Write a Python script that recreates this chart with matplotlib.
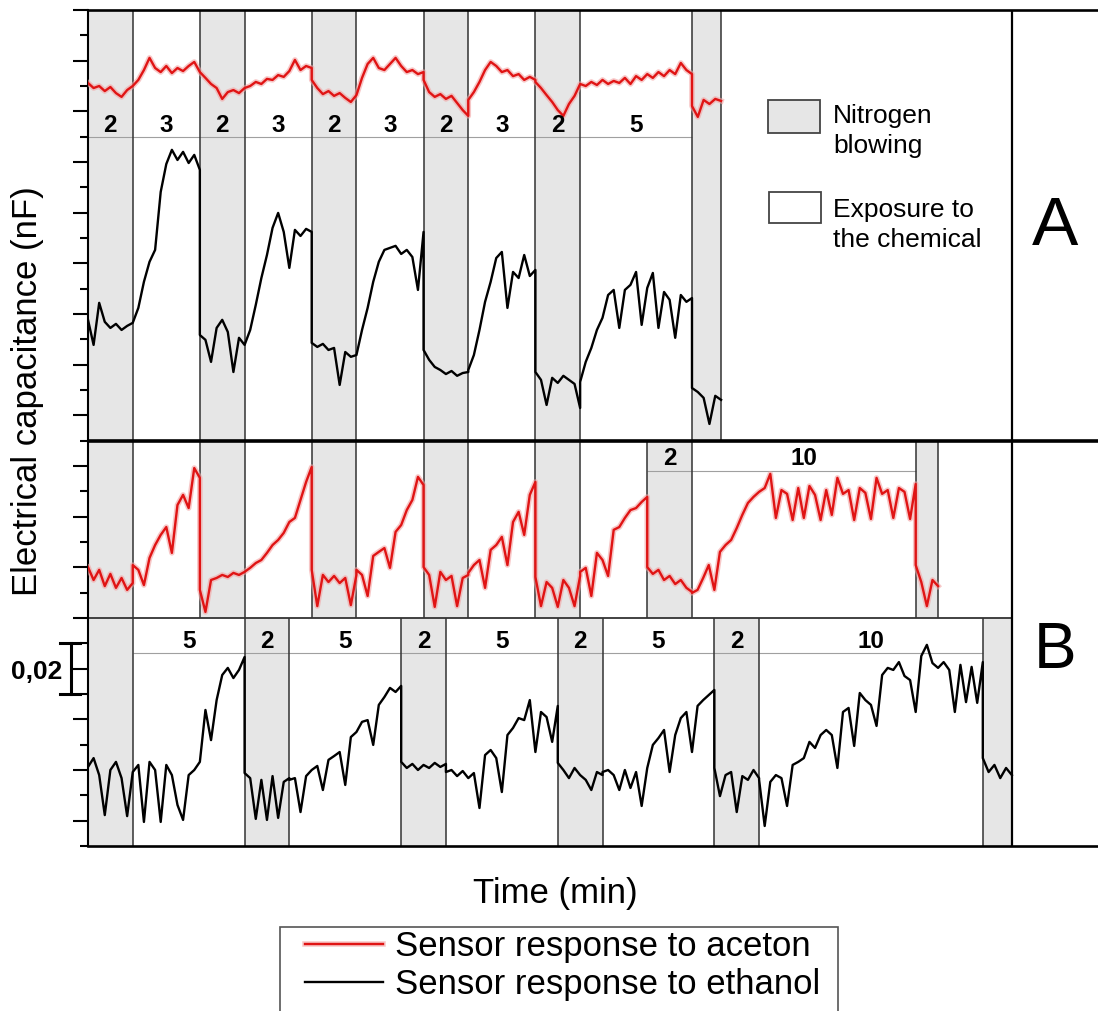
import numpy as np
import matplotlib
matplotlib.use('Agg')
import matplotlib.pyplot as plt
import matplotlib.patheffects as pe
from matplotlib.patches import Rectangle

plt.rcParams['font.family'] = ['Liberation Sans', 'DejaVu Sans']

RED = '#e01414'
GRAY = '#e6e6e6'
EDGE = '#333333'

# phase durations (min): even index = nitrogen blowing, odd index = exposure
a_phases = [2, 3, 2, 3, 2, 3, 2, 3, 2, 5, 1.3]
a_labels = ['2', '3', '2', '3', '2', '3', '2', '3', '2', '5', '']
b_red_phases = [2, 3, 2, 3, 2, 3, 2, 3, 2, 3, 2, 10, 1]
b_red_labels = ['', '', '', '', '', '', '', '', '', '', '2', '10', '']
b_black_phases = [2, 5, 2, 5, 2, 5, 2, 5, 2, 10, 1.3]
b_black_labels = ['', '5', '2', '5', '2', '5', '2', '5', '2', '10', '']

# capacitance readings (nF), one list per phase, ~0.25 min apart
a_red = [
    [0.3012, 0.2992, 0.3000, 0.2980, 0.2996, 0.2972, 0.2957, 0.2984, 0.3000],
    [0.3000, 0.3024, 0.3063, 0.3111, 0.3071, 0.3055, 0.3079, 0.3051, 0.3071, 0.3059, 0.3079, 0.3095, 0.3055],
    [0.3055, 0.3032, 0.3008, 0.2992, 0.2949, 0.2976, 0.2984, 0.2972, 0.2992],
    [0.2992, 0.3000, 0.3016, 0.3008, 0.3028, 0.3024, 0.3043, 0.3036, 0.3059, 0.3103, 0.3063, 0.3079, 0.3071],
    [0.3024, 0.2992, 0.2968, 0.2980, 0.2961, 0.2972, 0.2953, 0.2937, 0.2964],
    [0.2964, 0.3032, 0.3087, 0.3111, 0.3071, 0.3063, 0.3087, 0.3111, 0.3079, 0.3055, 0.3063, 0.3047, 0.3055],
    [0.3024, 0.2976, 0.2957, 0.2968, 0.2949, 0.2961, 0.2933, 0.2905, 0.2882],
    [0.2945, 0.2976, 0.3016, 0.3063, 0.3095, 0.3079, 0.3055, 0.3063, 0.3039, 0.3047, 0.3024, 0.3036, 0.3024],
    [0.3016, 0.2992, 0.2964, 0.2937, 0.2905, 0.2882, 0.2929, 0.2961, 0.3008],
    [0.3008, 0.3000, 0.3016, 0.3004, 0.3024, 0.3008, 0.3020, 0.3012, 0.3032, 0.3008, 0.3039,
     0.3024, 0.3047, 0.3032, 0.3055, 0.3039, 0.3063, 0.3047, 0.3091, 0.3063, 0.3047],
    [0.2921, 0.2878, 0.2945, 0.2929, 0.2949, 0.2941],
]
a_black = [
    [0.2077, 0.1978, 0.2144, 0.2069, 0.2045, 0.2061, 0.2037, 0.2053, 0.2065],
    [0.2065, 0.2124, 0.2227, 0.2306, 0.2353, 0.2582, 0.2692, 0.2748, 0.2708, 0.2740, 0.2696, 0.2728, 0.2669],
    [0.2017, 0.1998, 0.1911, 0.2045, 0.2077, 0.2029, 0.1871, 0.2006, 0.1978],
    [0.1978, 0.2037, 0.2136, 0.2242, 0.2333, 0.2440, 0.2499, 0.2424, 0.2282, 0.2432, 0.2408, 0.2436, 0.2424],
    [0.1986, 0.1970, 0.1982, 0.1958, 0.1966, 0.1820, 0.1950, 0.1931, 0.1938],
    [0.1938, 0.2037, 0.2124, 0.2227, 0.2306, 0.2353, 0.2361, 0.2369, 0.2337, 0.2353, 0.2325, 0.2195, 0.2424],
    [0.1958, 0.1919, 0.1891, 0.1879, 0.1863, 0.1875, 0.1856, 0.1867, 0.1871],
    [0.1879, 0.1938, 0.2037, 0.2148, 0.2227, 0.2321, 0.2345, 0.2124, 0.2266, 0.2242, 0.2333, 0.2250, 0.2274],
    [0.1871, 0.1840, 0.1741, 0.1848, 0.1828, 0.1856, 0.1840, 0.1824, 0.1729],
    [0.1832, 0.1911, 0.1966, 0.2037, 0.2085, 0.2175, 0.2195, 0.2045, 0.2195, 0.2215, 0.2266,
     0.2057, 0.2203, 0.2262, 0.2045, 0.2187, 0.2156, 0.2006, 0.2175, 0.2148, 0.2163],
    [0.1808, 0.1792, 0.1769, 0.1666, 0.1777, 0.1761],
]
b_red = [
    [0.1101, 0.1050, 0.1090, 0.1026, 0.1074, 0.1019, 0.1058, 0.1011, 0.1038],
    [0.1109, 0.1090, 0.1030, 0.1137, 0.1188, 0.1228, 0.1259, 0.1157, 0.1346, 0.1386, 0.1334, 0.1492, 0.1453],
    [0.1011, 0.0924, 0.1050, 0.1058, 0.1070, 0.1062, 0.1078, 0.1070, 0.1082],
    [0.1082, 0.1098, 0.1117, 0.1129, 0.1157, 0.1188, 0.1208, 0.1236, 0.1279, 0.1295, 0.1366, 0.1437, 0.1496],
    [0.1090, 0.0947, 0.1070, 0.1042, 0.1066, 0.1038, 0.1058, 0.0951, 0.1070],
    [0.1090, 0.1070, 0.0987, 0.1145, 0.1161, 0.1176, 0.1098, 0.1240, 0.1267, 0.1326, 0.1366, 0.1457, 0.1425],
    [0.1101, 0.1070, 0.0944, 0.1082, 0.1050, 0.1066, 0.0947, 0.1058, 0.1070],
    [0.1078, 0.1109, 0.1129, 0.1019, 0.1169, 0.1188, 0.1220, 0.1109, 0.1279, 0.1319, 0.1228, 0.1386, 0.1437],
    [0.1062, 0.0947, 0.1042, 0.1019, 0.0944, 0.1050, 0.1019, 0.0947, 0.1066],
    [0.1082, 0.1098, 0.0987, 0.1157, 0.1129, 0.1066, 0.1248, 0.1259, 0.1295, 0.1326, 0.1334, 0.1358, 0.1378],
    [0.1101, 0.1074, 0.1090, 0.1050, 0.1066, 0.1034, 0.1050, 0.1019, 0.1003],
    [0.0999, 0.1011, 0.1058, 0.1109, 0.1011, 0.1161, 0.1188, 0.1208, 0.1255, 0.1307, 0.1354,
     0.1378, 0.1398, 0.1413, 0.1469, 0.1295, 0.1405, 0.1390, 0.1287, 0.1413, 0.1295, 0.1421,
     0.1386, 0.1287, 0.1405, 0.1307, 0.1453, 0.1390, 0.1405, 0.1287, 0.1413, 0.1394, 0.1291,
     0.1453, 0.1390, 0.1405, 0.1295, 0.1413, 0.1398, 0.1291, 0.1429],
    [0.1109, 0.1042, 0.0947, 0.1050, 0.1026],
]
b_black = [
    [0.0312, 0.0347, 0.0280, 0.0122, 0.0300, 0.0332, 0.0268, 0.0118, 0.0292],
    [0.0292, 0.0320, 0.0095, 0.0332, 0.0300, 0.0095, 0.0320, 0.0280, 0.0162, 0.0103, 0.0280,
     0.0300, 0.0332, 0.0537, 0.0418, 0.0576, 0.0675, 0.0703, 0.0663, 0.0695, 0.0746],
    [0.0288, 0.0268, 0.0107, 0.0261, 0.0103, 0.0276, 0.0111, 0.0253, 0.0268],
    [0.0261, 0.0268, 0.0134, 0.0276, 0.0300, 0.0316, 0.0221, 0.0340, 0.0355, 0.0371, 0.0241,
     0.0430, 0.0450, 0.0490, 0.0497, 0.0399, 0.0557, 0.0588, 0.0624, 0.0608, 0.0632],
    [0.0332, 0.0308, 0.0324, 0.0300, 0.0320, 0.0308, 0.0328, 0.0312, 0.0324],
    [0.0292, 0.0300, 0.0276, 0.0296, 0.0268, 0.0288, 0.0150, 0.0359, 0.0379, 0.0347, 0.0213,
     0.0438, 0.0466, 0.0505, 0.0497, 0.0576, 0.0371, 0.0529, 0.0509, 0.0411, 0.0553],
    [0.0328, 0.0300, 0.0268, 0.0308, 0.0280, 0.0261, 0.0221, 0.0292, 0.0280],
    [0.0292, 0.0300, 0.0280, 0.0221, 0.0300, 0.0229, 0.0292, 0.0158, 0.0308, 0.0399, 0.0426,
     0.0458, 0.0292, 0.0438, 0.0505, 0.0529, 0.0371, 0.0553, 0.0576, 0.0596, 0.0616],
    [0.0308, 0.0197, 0.0280, 0.0292, 0.0134, 0.0276, 0.0261, 0.0300, 0.0268],
    [0.0261, 0.0079, 0.0253, 0.0280, 0.0268, 0.0158, 0.0320, 0.0332, 0.0347, 0.0411, 0.0387,
     0.0438, 0.0458, 0.0438, 0.0308, 0.0529, 0.0545, 0.0395, 0.0604, 0.0576, 0.0557, 0.0474,
     0.0675, 0.0703, 0.0695, 0.0726, 0.0671, 0.0655, 0.0529, 0.0750, 0.0794, 0.0722, 0.0703,
     0.0726, 0.0695, 0.0529, 0.0715, 0.0568, 0.0707, 0.0565, 0.0726],
    [0.0347, 0.0292, 0.0320, 0.0268, 0.0308, 0.0280],
]


def build(phases, segs):
    t, v = [], []
    start = 0.0
    for d, seg in zip(phases, segs):
        t.extend(np.linspace(start, start + d, len(seg)))
        v.extend(seg)
        start += d
    return np.array(t), np.array(v)


fig = plt.figure(figsize=(10.98, 10.11), dpi=100)
ax = fig.add_axes([88 / 1098, 165 / 1011, 1010 / 1098, 836 / 1011])
ax.set_xlim(0, 1010 / 22.37)
ax.set_ylim(0, 0.33)


def draw_phases(phases, labels, y0, y1, label_y, line_y, line_from, line_to):
    edges = np.concatenate([[0], np.cumsum(phases)])
    for i in range(len(phases)):
        if i % 2 == 0:
            ax.fill_between([edges[i], edges[i + 1]], y0, y1, color=GRAY, lw=0, zorder=0)
        if labels[i]:
            ax.text((edges[i] + edges[i + 1]) / 2, label_y, labels[i], ha='center',
                    va='baseline', fontsize=17.5, fontweight='bold', zorder=4)
    ax.vlines(edges[1:], y0, y1, color=EDGE, lw=1.1, zorder=2)
    ax.hlines(line_y, edges[line_from], edges[line_to], color='#a0a0a0', lw=0.8, zorder=1)


draw_phases(a_phases, a_labels, 0.16, 0.33, 0.2819, 0.28, 0, 10)
draw_phases(b_red_phases, b_red_labels, 0.09, 0.16, 0.1504, 0.148, 10, 12)
draw_phases(b_black_phases, b_black_labels, 0.0, 0.09, 0.0782, 0.0762, 1, 10)

glow = [pe.Stroke(linewidth=4, foreground='#f3a3a3', alpha=0.6), pe.Normal()]
t, v = build(a_phases, a_red)
red_line, = ax.plot(t, v, color=RED, lw=1.7, zorder=3, path_effects=glow)
t, v = build(a_phases, a_black)
black_line, = ax.plot(t, v, color='black', lw=1.7, zorder=3)
t, v = build(b_red_phases, b_red)
ax.plot(t, v, color=RED, lw=1.7, zorder=3, path_effects=glow)
t, v = build(b_black_phases, b_black)
ax.plot(t, v, color='black', lw=1.7, zorder=3)

# frame pieces
ax.axhline(0.16, color='black', lw=2.6, zorder=5)
ax.hlines(0.09, 0, 41.3, color=EDGE, lw=1.3, zorder=2)
ax.vlines(41.3, 0, 0.33, color='black', lw=1.6, zorder=5)
ax.spines['right'].set_visible(False)
ax.spines['left'].set_linewidth(1.5)
ax.spines['top'].set_linewidth(1.9)
ax.spines['bottom'].set_linewidth(1.9)
ax.set_xticks([])
ax.set_yticks(np.arange(1, 34, 2) * 0.01)
ax.set_yticks(np.arange(0, 33, 2) * 0.01, minor=True)
ax.set_yticklabels([])
ax.tick_params(axis='y', which='major', length=10.8, width=1.5, direction='out')
ax.tick_params(axis='y', which='minor', length=5.8, width=1.5, direction='out')

# key for the shading
ax.add_patch(Rectangle((30.42, 0.2815), 2.32, 0.013, fc=GRAY, ec='#444444', lw=1.3, zorder=4))
ax.add_patch(Rectangle((30.45, 0.2460), 2.32, 0.0122, fc='white', ec='#444444', lw=1.3, zorder=4))
ax.text(33.3, 0.2854, 'Nitrogen', fontsize=19, va='baseline')
ax.text(33.3, 0.2736, 'blowing', fontsize=19, va='baseline')
ax.text(33.3, 0.2483, 'Exposure to', fontsize=19, va='baseline')
ax.text(33.3, 0.2365, 'the chemical', fontsize=19, va='baseline')

ax.text(43.23, 0.2373, 'A', fontsize=50, ha='center', va='baseline')
ax.text(43.23, 0.0703, 'B', fontsize=46, ha='center', va='baseline')

# 0,02 nF scale bar
ax.plot([-0.76, -0.76], [0.06, 0.08], color='black', lw=2.2, clip_on=False)
ax.plot([-1.25, -0.36], [0.08, 0.08], color='black', lw=2.2, clip_on=False)
ax.plot([-1.25, -0.36], [0.06, 0.06], color='black', lw=2.2, clip_on=False)
ax.text(-1.15, 0.0659, '0,02', ha='right', va='baseline', fontsize=19,
        fontweight='bold', clip_on=False)

fig.text(28 / 1098, 1 - 391.5 / 1011, 'Electrical capacitance (nF)', rotation=90,
         ha='center', va='center', fontsize=25)
fig.text(555 / 1098, 1 - 903 / 1011, 'Time (min)', ha='center', va='baseline', fontsize=25)

fig.legend([red_line, black_line], ['Sensor response to aceton', 'Sensor response to ethanol'],
           loc='upper left', bbox_to_anchor=(305 / 1098, 1 - 930 / 1011), frameon=False,
           borderpad=0, borderaxespad=0, handlelength=2.25, handletextpad=0.35,
           labelspacing=0.15, fontsize=25)
fig.add_artist(Rectangle((280 / 1098, -0.05), (838 - 280) / 1098, 0.05 + 1 - 927 / 1011,
                         transform=fig.transFigure, fill=False, ec='#555555', lw=1.2))

fig.savefig('out.png', dpi=100)
